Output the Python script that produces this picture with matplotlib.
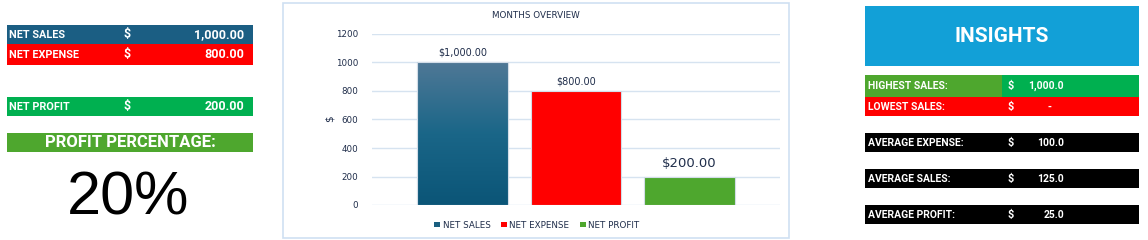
import matplotlib
matplotlib.use("Agg")
import matplotlib.pyplot as plt
import numpy as np
from matplotlib.patches import Rectangle, Patch
from matplotlib.colors import LinearSegmentedColormap

# ---------------- data ----------------
summary_labels = ["NET SALES", "NET EXPENSE", "NET PROFIT"]
summary_values = ["1,000.00", "800.00", "200.00"]
profit_pct_label = "PROFIT PERCENTAGE:"
profit_pct_value = "20%"

categories = ["NET SALES", "NET EXPENSE", "NET PROFIT"]
values = [1000, 800, 200]
value_labels = ["$1,000.00", "$800.00", "$200.00"]
y_ticks = [0, 200, 400, 600, 800, 1000, 1200]
chart_title = "MONTHS OVERVIEW"

insight_title = "INSIGHTS"
insight_labels = ["HIGHEST SALES:", "LOWEST SALES:", "AVERAGE EXPENSE:", "AVERAGE SALES:", "AVERAGE PROFIT:"]
insight_values = ["1,000.0", "-", "100.0", "125.0", "25.0"]

# ---------------- figure ----------------
W, H = 1148, 240
fig = plt.figure(figsize=(W / 100, H / 100), dpi=100)
bg = fig.add_axes([0, 0, 1, 1])
bg.set_xlim(0, W)
bg.set_ylim(H, 0)
bg.axis("off")

BLUE = "#1B5E83"
RED = "#FF0000"
GREEN = "#00B050"
GREEN2 = "#4EA72E"
SKY = "#12A0D7"
NAVY = "#1f2d4a"
FONT = "Roboto"

def rect(x0, y0, x1, y1, color):
    bg.add_patch(Rectangle((x0, y0), x1 - x0, y1 - y0, facecolor=color, edgecolor="none"))

# left panel
left_rows = [(25, 44, BLUE), (44, 65, RED), (97, 116, GREEN)]
for (y0, y1, c), lab, val in zip(left_rows, summary_labels, summary_values):
    rect(7, y0, 253, y1, c)
    yc = (y0 + y1) / 2
    bg.text(9, yc, lab, color="white", fontsize=7.8, fontweight="bold", family=FONT, va="center", ha="left")
    bg.text(127, yc, "$", color="white", fontsize=9, fontweight="bold", family=FONT, va="center", ha="center")
    bg.text(244, yc, val, color="white", fontsize=9, fontweight="bold", family=FONT, va="center", ha="right")

rect(7, 133, 253, 152, GREEN2)
bg.text(130, 142.5, profit_pct_label, color="white", fontsize=12, fontweight="bold", family=FONT, va="center", ha="center")
bg.text(128, 199, profit_pct_value, color="black", fontsize=44, family="Liberation Sans", va="center", ha="center")

# chart border
bg.add_patch(Rectangle((283, 3), 506, 235, facecolor="white", edgecolor="#CFE0F2", lw=1.2))
bg.text(536, 15, chart_title, color=NAVY, fontsize=6.3, va="center", ha="center")
bg.text(330, 119, "$", color=NAVY, fontsize=7.5, va="center", ha="center", rotation=90)

# right panel
rect(865, 6, 1139, 66, SKY)
bg.text(1002, 36, insight_title, color="white", fontsize=15, fontweight="bold", family=FONT, va="center", ha="center")
right_rows = [(75, 97), (97, 116), (133, 152), (169, 188), (205, 224)]
right_colors = [GREEN, RED, "black", "black", "black"]
for i, ((y0, y1), c, lab, val) in enumerate(zip(right_rows, right_colors, insight_labels, insight_values)):
    rect(865, y0, 1139, y1, c)
    if i == 0:
        rect(865, y0, 1002, y1, GREEN2)
    yc = (y0 + y1) / 2
    bg.text(868, yc, lab, color="white", fontsize=7.5, fontweight="bold", family=FONT, va="center", ha="left")
    bg.text(1011, yc, "$", color="white", fontsize=7.8, fontweight="bold", family=FONT, va="center", ha="center")
    if val == "-":
        bg.text(1050, yc, val, color="white", fontsize=7.5, fontweight="bold", family=FONT, va="center", ha="center")
    else:
        bg.text(1064, yc, val, color="white", fontsize=7.5, fontweight="bold", family=FONT, va="center", ha="right")

# ---------------- bar chart ----------------
ax_l, ax_r, ax_top, ax_bot = 372, 780, 34, 205
ax = fig.add_axes([ax_l / W, (H - ax_bot) / H, (ax_r - ax_l) / W, (ax_bot - ax_top) / H])
ax.set_facecolor("none")
x = np.arange(len(categories))
bar_colors = [BLUE, RED, GREEN2]
bars = ax.bar(x, values, width=0.805, color=bar_colors, edgecolor="#d3dde8", linewidth=0.8, zorder=3)

# gradient for first bar
cmap = LinearSegmentedColormap.from_list("g", ["#0B5577", "#1a6688", "#4F7896"])
b0 = bars[0]
grad = np.linspace(0, 1, 256).reshape(-1, 1)
im = ax.imshow(grad, cmap=cmap, origin="lower", aspect="auto",
               extent=[b0.get_x(), b0.get_x() + b0.get_width(), 0, b0.get_height()], zorder=3.5)
im.set_clip_path(b0)
ax.add_patch(Rectangle((b0.get_x(), 0), b0.get_width(), b0.get_height(), facecolor="none",
                       edgecolor="#d3dde8", lw=0.8, zorder=4))

ax.set_xlim(-0.805, 2.805)
ax.set_ylim(0, 1200)
ax.set_yticks(y_ticks)
ax.set_yticklabels([str(t) for t in y_ticks])
ax.set_xticks([])
ax.tick_params(axis="y", length=0, labelsize=6.3, labelcolor=NAVY, pad=10)
ax.grid(axis="y", color="#D6E3F0", lw=1, zorder=0)
for s in ax.spines.values():
    s.set_visible(False)

label_sizes = [7, 7, 9.5]
label_offsets = [7, 7, 9.5]
for xi, v, lab, fs, off in zip(x, values, value_labels, label_sizes, label_offsets):
    ax.annotate(lab, (xi, v), xytext=(0, off), textcoords="offset points",
                ha="center", va="center", fontsize=fs, color=NAVY)

handles = [Patch(facecolor=c, edgecolor="none") for c in ["#1a5f80", RED, GREEN2]]
fig.legend(handles, categories, loc="center", bbox_to_anchor=(537 / W, (H - 225) / H),
           ncol=3, frameon=False, fontsize=6.3, handlelength=0.65, handleheight=0.65,
           handletextpad=0.3, columnspacing=1.2, labelcolor=NAVY)

fig.savefig("out.png", dpi=100)
